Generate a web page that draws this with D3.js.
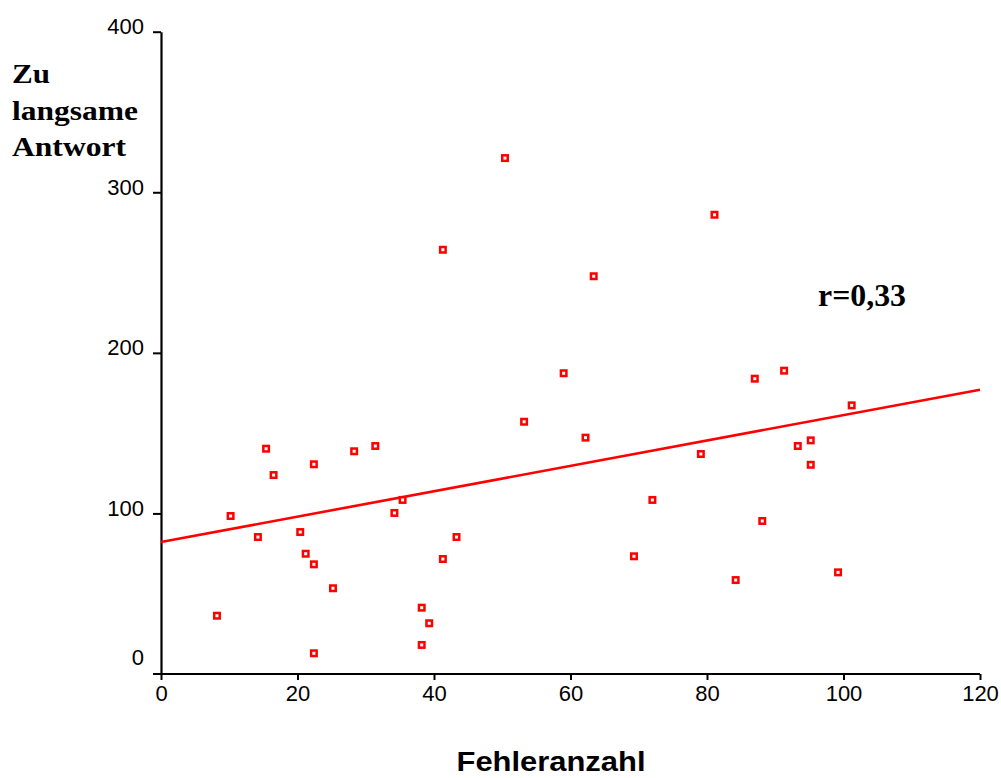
<!DOCTYPE html>
<html>
<head>
<meta charset="utf-8">
<script src="https://cdn.jsdelivr.net/npm/d3@7"></script>
<style>
  html, body { margin: 0; padding: 0; background: #fff; }
  svg { display: block; }
</style>
</head>
<body>
<svg id="chart" width="1001" height="778"></svg>
<script>
// Fehleranzahl (errors) per participant
const fehler = [8.2, 10.2, 14.2, 15.4, 16.5, 20.4, 21.2, 22.4, 22.4, 22.4,
  25.2, 28.3, 31.4, 34.2, 35.4, 38.2, 39.3, 38.2, 41.3, 41.3,
  43.3, 50.4, 53.2, 59.0, 62.2, 63.4, 69.3, 72.0, 79.1, 81.1,
  84.2, 87.0, 88.1, 91.3, 93.3, 95.2, 95.2, 99.2, 101.2];
// "Zu langsame Antwort" (too slow answers) per participant
const langsam = [36.3, 98.4, 85.3, 140.3, 123.9, 88.4, 74.9, 68.3, 130.6, 12.9,
  53.4, 138.7, 142.0, 100.3, 108.4, 41.3, 31.6, 18.1, 71.6, 264.2,
  85.3, 321.3, 157.1, 187.3, 147.2, 247.7, 73.3, 108.4, 137.0, 286.0,
  58.5, 183.9, 95.3, 188.9, 142.0, 145.5, 130.3, 63.3, 167.3];

// fitted regression line: y = intercept + slope * x
const fitIntercept = [82.2];
const fitSlope = [0.79];
const fitRange = [0, 120];

const xTicks = [0, 20, 40, 60, 80, 100, 120];
const yTicks = [0, 100, 200, 300, 400];
const yLabelLines = ["Zu", "langsame", "Antwort"];
const xTitle = "Fehleranzahl";
const corrText = "r=0,33";

const svg = d3.select("#chart");

const x = d3.scaleLinear().domain([0, 120]).range([161, 980]);
const y = d3.scaleLinear().domain([0, 400]).range([674, 31.7]);

// x axis (ticks downwards)
const xAxis = svg.append("g")
  .attr("transform", `translate(0,${y(0)})`)
  .call(d3.axisBottom(x).tickValues(xTicks).tickSizeInner(6).tickSizeOuter(0).tickFormat(d3.format("d")));
xAxis.select(".domain").attr("stroke", "#000").attr("stroke-width", 2.2)
  .attr("d", `M${x(0) - 8},0H${x(120)}`);
xAxis.selectAll(".tick line").attr("stroke", "#000").attr("stroke-width", 2);
xAxis.selectAll(".tick text")
  .attr("font-family", "Arial, 'Liberation Sans', sans-serif")
  .attr("font-size", 22).attr("fill", "#000")
  .attr("y", 11).attr("dy", "0.71em");

// y axis (ticks leftwards)
const yAxis = svg.append("g")
  .attr("transform", `translate(${x(0)},0)`)
  .call(d3.axisLeft(y).tickValues(yTicks).tickSizeInner(8).tickSizeOuter(0).tickFormat(d3.format("d")));
yAxis.select(".domain").attr("stroke", "#000").attr("stroke-width", 2.2);
yAxis.selectAll(".tick line").attr("stroke", "#000").attr("stroke-width", 2)
  .attr("display", d => d === 0 ? "none" : null);
yAxis.selectAll(".tick text")
  .attr("font-family", "Arial, 'Liberation Sans', sans-serif")
  .attr("font-size", 22).attr("fill", "#000")
  .attr("x", -17)
  .attr("y", d => d === 0 ? -17 : -5);

// regression line
svg.append("line")
  .attr("x1", x(fitRange[0])).attr("y1", y(fitIntercept[0] + fitSlope[0] * fitRange[0]))
  .attr("x2", x(fitRange[1])).attr("y2", y(fitIntercept[0] + fitSlope[0] * fitRange[1]))
  .attr("stroke", "#ff0000").attr("stroke-width", 2.6);

// scatter markers: small open squares
const pts = fehler.map((v, i) => [v, langsam[i]]);
const s = 5.5;
svg.append("g").selectAll("rect").data(pts).join("rect")
  .attr("x", d => x(d[0]) - s / 2)
  .attr("y", d => y(d[1]) - s / 2)
  .attr("width", s).attr("height", s)
  .attr("fill", "#fff").attr("stroke", "#ff0000").attr("stroke-width", 2.5);

// y axis title (three lines)
const lineWidths = [38, 126, 114];
svg.append("g").selectAll("text").data(yLabelLines).join("text")
  .attr("x", 12)
  .attr("y", (d, i) => 83 + i * 36.6)
  .attr("font-family", "'Liberation Serif', 'Times New Roman', serif")
  .attr("font-weight", "bold").attr("font-size", 28).attr("fill", "#000")
  .attr("textLength", (d, i) => lineWidths[i])
  .attr("lengthAdjust", "spacingAndGlyphs")
  .text(d => d);

// x axis title
svg.append("text")
  .attr("x", 456.5).attr("y", 771)
  .attr("font-family", "Arial, 'Liberation Sans', sans-serif")
  .attr("font-weight", "bold").attr("font-size", 28).attr("fill", "#000")
  .attr("textLength", 189).attr("lengthAdjust", "spacingAndGlyphs")
  .text(xTitle);

// correlation annotation
svg.append("text")
  .attr("x", 818).attr("y", 306)
  .attr("font-family", "'Liberation Serif', 'Times New Roman', serif")
  .attr("font-weight", "bold").attr("font-size", 32).attr("fill", "#000")
  .attr("textLength", 88).attr("lengthAdjust", "spacingAndGlyphs")
  .text(corrText);
</script>
</body>
</html>
